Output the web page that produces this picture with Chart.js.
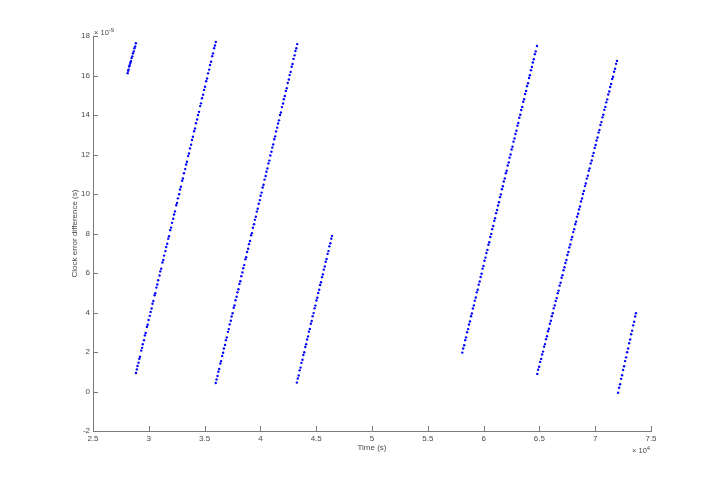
<!DOCTYPE html>
<html><head><meta charset="utf-8">
<script src="https://cdn.jsdelivr.net/npm/chart.js@4/dist/chart.umd.min.js"></script>
<style>html,body{margin:0;padding:0;background:#fff}canvas{display:block}</style>
</head><body>
<canvas id="c" width="720" height="485"></canvas>
<script>
// Axis tick values (x in units of 10^4 s, y in units of 10^-9 s)
const xTicks = [2.5, 3, 3.5, 4, 4.5, 5, 5.5, 6, 6.5, 7, 7.5];
const yTicks = [-2, 0, 2, 4, 6, 8, 10, 12, 14, 16, 18];
const xTitle = 'Time (s)';
const yTitle = 'Clock error difference (s)';
const xExponent = '4';
const yExponent = '-9';

// Scatter segments: [time (×10^4 s), clock error difference (×10^-9 s)]
const seg1 = [[2.811,16.12],[2.815,16.24],[2.819,16.30],[2.824,16.45],[2.829,16.52],[2.834,16.63],[2.840,16.72],[2.846,16.88],[2.852,16.97],[2.858,17.12],[2.865,17.22],[2.871,17.38],[2.878,17.47],[2.884,17.63]];

const seg2 = [[2.885,0.94],[2.893,1.12],[2.899,1.29],[2.908,1.46],[2.915,1.66],[2.921,1.76],[2.932,2.07],[2.940,2.21],[2.946,2.39],[2.957,2.60],[2.965,2.84],[2.972,2.96],[2.983,3.27],[2.990,3.38],[2.998,3.62],[3.009,3.83],[3.016,4.03],[3.025,4.20],[3.033,4.44],[3.041,4.58],[3.052,4.87],[3.058,4.98],[3.068,5.26],[3.077,5.42],[3.084,5.63],[3.096,5.87],[3.103,6.08],[3.111,6.22],[3.122,6.53],[3.130,6.66],[3.137,6.88],[3.149,7.11],[3.156,7.32],[3.165,7.48],[3.174,7.74],[3.181,7.86],[3.192,8.17],[3.200,8.30],[3.208,8.54],[3.219,8.75],[3.226,8.96],[3.235,9.12],[3.246,9.43],[3.253,9.55],[3.261,9.78],[3.272,9.99],[3.280,10.23],[3.288,10.37],[3.299,10.67],[3.306,10.79],[3.315,11.05],[3.326,11.26],[3.334,11.49],[3.342,11.63],[3.352,11.92],[3.360,12.05],[3.369,12.31],[3.379,12.50],[3.387,12.74],[3.396,12.90],[3.406,13.18],[3.414,13.32],[3.423,13.58],[3.433,13.77],[3.441,14.00],[3.450,14.16],[3.460,14.45],[3.468,14.59],[3.477,14.85],[3.487,15.03],[3.495,15.27],[3.504,15.43],[3.514,15.71],[3.522,15.85],[3.531,16.11],[3.541,16.30],[3.549,16.53],[3.558,16.70],[3.568,16.98],[3.576,17.12],[3.585,17.38],[3.593,17.52],[3.600,17.70]];

const seg3 = [[3.600,0.43],[3.607,0.61],[3.616,0.79],[3.623,1.00],[3.631,1.14],[3.641,1.42],[3.648,1.54],[3.657,1.80],[3.666,1.96],[3.673,2.18],[3.683,2.36],[3.691,2.60],[3.699,2.74],[3.709,3.02],[3.717,3.16],[3.725,3.40],[3.735,3.58],[3.742,3.80],[3.751,3.96],[3.761,4.24],[3.768,4.36],[3.777,4.62],[3.787,4.80],[3.794,5.02],[3.803,5.18],[3.812,5.44],[3.820,5.58],[3.829,5.84],[3.839,6.03],[3.846,6.24],[3.855,6.40],[3.865,6.69],[3.872,6.80],[3.881,7.06],[3.890,7.23],[3.898,7.46],[3.907,7.62],[3.917,7.91],[3.924,8.02],[3.933,8.29],[3.943,8.47],[3.950,8.69],[3.959,8.85],[3.968,9.11],[3.976,9.25],[3.985,9.51],[3.995,9.69],[4.002,9.91],[4.011,10.07],[4.020,10.33],[4.028,10.47],[4.037,10.73],[4.047,10.91],[4.054,11.13],[4.063,11.29],[4.072,11.55],[4.080,11.69],[4.089,11.95],[4.099,12.14],[4.106,12.35],[4.115,12.51],[4.124,12.77],[4.132,12.91],[4.141,13.17],[4.151,13.36],[4.158,13.57],[4.167,13.73],[4.176,14.00],[4.184,14.13],[4.193,14.40],[4.203,14.58],[4.210,14.80],[4.219,14.96],[4.228,15.22],[4.236,15.36],[4.245,15.62],[4.255,15.80],[4.262,16.02],[4.271,16.18],[4.280,16.44],[4.288,16.58],[4.297,16.84],[4.307,17.02],[4.314,17.24],[4.322,17.38],[4.330,17.59]];

const seg4 = [[4.327,0.45],[4.335,0.66],[4.343,0.81],[4.352,1.07],[4.360,1.21],[4.368,1.45],[4.377,1.61],[4.385,1.85],[4.393,1.99],[4.402,2.25],[4.410,2.39],[4.418,2.63],[4.427,2.79],[4.435,3.03],[4.443,3.17],[4.452,3.43],[4.460,3.57],[4.468,3.81],[4.477,3.97],[4.485,4.21],[4.493,4.35],[4.502,4.61],[4.510,4.75],[4.518,4.99],[4.527,5.15],[4.535,5.39],[4.543,5.53],[4.552,5.79],[4.560,5.93],[4.568,6.17],[4.577,6.33],[4.585,6.57],[4.593,6.71],[4.602,6.97],[4.610,7.11],[4.618,7.35],[4.627,7.51],[4.635,7.74],[4.642,7.88]];

const seg5 = [[5.809,1.97],[5.817,2.18],[5.826,2.34],[5.835,2.60],[5.843,2.74],[5.852,3.00],[5.861,3.16],[5.869,3.39],[5.878,3.55],[5.887,3.81],[5.895,3.95],[5.904,4.20],[5.913,4.36],[5.921,4.60],[5.930,4.76],[5.939,5.02],[5.947,5.15],[5.956,5.41],[5.965,5.57],[5.973,5.80],[5.982,5.96],[5.991,6.22],[5.999,6.36],[6.008,6.62],[6.017,6.78],[6.025,7.01],[6.034,7.17],[6.043,7.43],[6.051,7.56],[6.060,7.82],[6.069,7.98],[6.077,8.22],[6.086,8.38],[6.095,8.64],[6.103,8.77],[6.112,9.03],[6.121,9.19],[6.129,9.42],[6.138,9.58],[6.147,9.84],[6.155,9.98],[6.164,10.24],[6.173,10.39],[6.181,10.63],[6.190,10.79],[6.199,11.05],[6.207,11.18],[6.216,11.44],[6.225,11.60],[6.233,11.84],[6.242,12.00],[6.251,12.25],[6.259,12.39],[6.268,12.65],[6.277,12.81],[6.285,13.04],[6.294,13.20],[6.303,13.46],[6.311,13.60],[6.320,13.86],[6.329,14.01],[6.337,14.25],[6.346,14.41],[6.355,14.67],[6.363,14.80],[6.372,15.06],[6.381,15.22],[6.389,15.46],[6.398,15.61],[6.407,15.87],[6.415,16.01],[6.424,16.27],[6.433,16.43],[6.441,16.66],[6.450,16.82],[6.459,17.08],[6.467,17.22],[6.478,17.49]];

const seg6 = [[6.481,0.89],[6.489,1.10],[6.498,1.25],[6.507,1.50],[6.516,1.65],[6.524,1.87],[6.533,2.02],[6.542,2.27],[6.550,2.40],[6.559,2.65],[6.568,2.80],[6.577,3.05],[6.585,3.18],[6.594,3.43],[6.603,3.58],[6.611,3.81],[6.620,3.96],[6.629,4.21],[6.638,4.36],[6.646,4.58],[6.655,4.73],[6.664,4.98],[6.672,5.11],[6.681,5.36],[6.690,5.51],[6.699,5.76],[6.707,5.89],[6.716,6.14],[6.725,6.29],[6.733,6.51],[6.742,6.66],[6.751,6.91],[6.760,7.06],[6.768,7.29],[6.777,7.44],[6.786,7.69],[6.794,7.82],[6.803,8.07],[6.812,8.22],[6.821,8.47],[6.829,8.60],[6.838,8.85],[6.847,9.00],[6.855,9.22],[6.864,9.37],[6.873,9.62],[6.882,9.77],[6.890,10.00],[6.899,10.15],[6.908,10.40],[6.916,10.53],[6.925,10.78],[6.934,10.93],[6.943,11.18],[6.951,11.30],[6.960,11.55],[6.969,11.70],[6.977,11.93],[6.986,12.08],[6.995,12.33],[7.004,12.48],[7.012,12.71],[7.021,12.86],[7.030,13.11],[7.038,13.24],[7.047,13.49],[7.056,13.64],[7.065,13.88],[7.073,14.01],[7.082,14.26],[7.091,14.41],[7.099,14.64],[7.108,14.79],[7.117,15.04],[7.126,15.19],[7.134,15.42],[7.143,15.57],[7.152,15.82],[7.160,15.94],[7.169,16.19],[7.178,16.34],[7.187,16.59],[7.195,16.74]];

const seg7 = [[7.205,-0.06],[7.214,0.19],[7.223,0.37],[7.232,0.64],[7.241,0.82],[7.250,1.09],[7.259,1.28],[7.268,1.54],[7.277,1.73],[7.286,1.99],[7.295,2.18],[7.304,2.44],[7.313,2.63],[7.322,2.90],[7.331,3.08],[7.340,3.35],[7.349,3.53],[7.358,3.80],[7.365,3.96]];

const segments = [seg1, seg2, seg3, seg4, seg5, seg6, seg7];

const AXIS_COLOR = '#7a7a7a';
const TEXT_COLOR = '#4a4a4a';
const FONT_FAMILY = '"Liberation Sans", Arial, sans-serif';

const inwardTicks = {
  id: 'inwardTicks',
  afterDraw(chart) {
    const {ctx, chartArea: a, scales: {x, y}} = chart;
    ctx.save();
    ctx.strokeStyle = AXIS_COLOR;
    ctx.lineWidth = 1;
    ctx.beginPath();
    x.ticks.forEach(t => {
      const px = Math.round(x.getPixelForValue(t.value)) + 0.5;
      ctx.moveTo(px, a.bottom); ctx.lineTo(px, a.bottom - 5);
    });
    y.ticks.forEach(t => {
      const py = Math.round(y.getPixelForValue(t.value)) + 0.5;
      ctx.moveTo(a.left, py); ctx.lineTo(a.left + 5, py);
    });
    ctx.stroke();
    // exponent labels
    ctx.fillStyle = TEXT_COLOR;
    ctx.textBaseline = 'alphabetic';
    ctx.textAlign = 'left';
    ctx.font = '7.5px ' + FONT_FAMILY;
    let tx = a.left + 1, ty = a.top - 1;
    ctx.fillText('\u00d7 10', tx, ty);
    let w = ctx.measureText('\u00d7 10').width;
    ctx.font = '6px ' + FONT_FAMILY;
    ctx.fillText(yExponent, tx + w, ty - 3);
    ctx.font = '7.5px ' + FONT_FAMILY;
    tx = a.right - 19; ty = a.bottom + 22;
    ctx.fillText('\u00d7 10', tx, ty);
    w = ctx.measureText('\u00d7 10').width;
    ctx.font = '6px ' + FONT_FAMILY;
    ctx.fillText(xExponent, tx + w, ty - 3);
    ctx.restore();
  }
};

new Chart(document.getElementById('c'), {
  type: 'scatter',
  data: {
    datasets: segments.map((s, i) => ({
      label: 'segment ' + (i + 1),
      data: s.map(p => ({x: p[0], y: p[1]})),
      backgroundColor: '#0000ff',
      borderWidth: 0,
      pointRadius: 1.2,
      pointHoverRadius: 1.2
    }))
  },
  options: {
    responsive: false,
    animation: false,
    devicePixelRatio: 1,
    layout: {padding: {left: 0, top: 36, right: 69, bottom: 0}},
    plugins: {legend: {display: false}, tooltip: {enabled: false}},
    scales: {
      x: {
        type: 'linear', min: 2.5, max: 7.5,
        afterBuildTicks: s => { s.ticks = xTicks.map(v => ({value: v})); },
        afterFit: s => { s.height = 54; },
        grid: {display: false, drawTicks: false},
        border: {display: true, color: AXIS_COLOR, width: 1},
        ticks: {color: TEXT_COLOR, font: {family: FONT_FAMILY, size: 8}, padding: 3, maxRotation: 0, autoSkip: false,
                callback: v => String(v)},
        title: {display: true, text: xTitle, color: TEXT_COLOR, font: {family: FONT_FAMILY, size: 8}, padding: {top: 0, bottom: 32}}
      },
      y: {
        type: 'linear', min: -2, max: 18,
        afterBuildTicks: s => { s.ticks = yTicks.map(v => ({value: v})); },
        afterFit: s => { s.width = 93; },
        grid: {display: false, drawTicks: false},
        border: {display: true, color: AXIS_COLOR, width: 1},
        ticks: {color: TEXT_COLOR, font: {family: FONT_FAMILY, size: 8}, padding: 3, autoSkip: false,
                callback: v => String(v)},
        title: {display: true, text: yTitle, color: TEXT_COLOR, font: {family: FONT_FAMILY, size: 8}, padding: {top: 70, bottom: 0}}
      }
    }
  },
  plugins: [inwardTicks]
});
</script>
</body></html>
